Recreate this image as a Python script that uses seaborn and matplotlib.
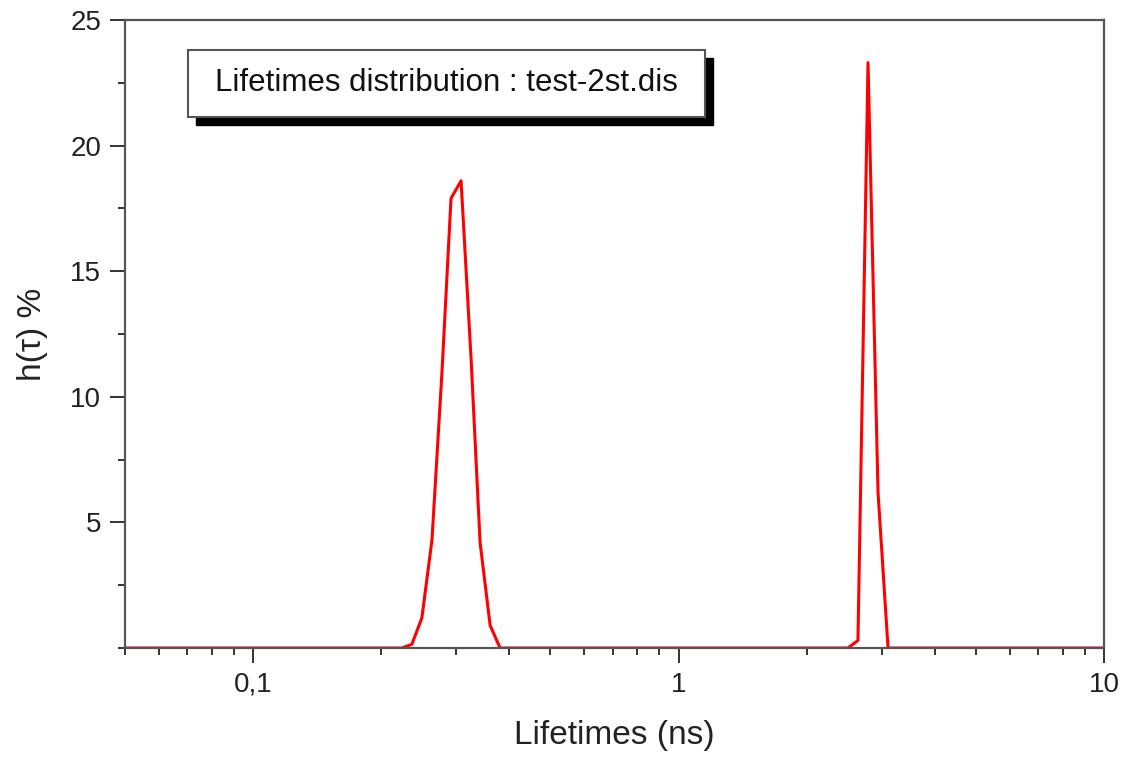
import numpy as np
import pandas as pd
import matplotlib
matplotlib.use("Agg")
import matplotlib.pyplot as plt
import matplotlib.ticker as mticker
from matplotlib.patches import Rectangle
import seaborn as sns

# lifetime grid (ns) and distribution h(tau) in %
tau = [0.05, 0.2238, 0.2362, 0.2493, 0.2633, 0.2780, 0.2919, 0.3082, 0.3254,
       0.3416, 0.3607, 0.3807, 2.501, 2.640, 2.788, 2.943, 3.107, 10.0]
h = [0.0, 0.0, 0.15, 1.2, 4.3, 11.0, 17.9, 18.6, 11.5,
     4.2, 0.9, 0.0, 0.0, 0.3, 23.3, 6.2, 0.0, 0.0]

x_ticks = [0.1, 1, 10]
x_labels = ["0,1", "1", "10"]
y_ticks = [5, 10, 15, 20, 25]

df = pd.DataFrame({"tau": tau, "h": h})

sns.set_style("white")
plt.rcParams["font.family"] = ["Liberation Sans", "DejaVu Sans"]

fig = plt.figure(figsize=(11.26, 7.63), dpi=100)
ax = fig.add_axes([0.111, 0.1507, 0.8695, 0.8231])

sns.lineplot(data=df, x="tau", y="h", ax=ax, color="#ff0000", linewidth=2.2,
             estimator=None, sort=False)

ax.set_xscale("log")
ax.set_xlim(0.05, 10)
ax.set_ylim(0, 25)

ax.xaxis.set_major_locator(mticker.FixedLocator(x_ticks))
ax.xaxis.set_major_formatter(mticker.FixedFormatter(x_labels))
ax.xaxis.set_minor_locator(mticker.LogLocator(base=10, subs=np.arange(2, 10)))
ax.xaxis.set_minor_formatter(mticker.NullFormatter())
ax.yaxis.set_major_locator(mticker.FixedLocator(y_ticks))
ax.yaxis.set_minor_locator(mticker.MultipleLocator(2.5))

for sp in ax.spines.values():
    sp.set_color("#555555")
    sp.set_linewidth(1.6)

ax.tick_params(which="both", direction="out", color="#333333", width=1.4,
               bottom=True, left=True, top=False, right=False)
ax.tick_params(which="major", length=11, labelsize=20, labelcolor="#222222", pad=6)
ax.tick_params(which="minor", length=5)

ax.set_xlabel("Lifetimes (ns)", fontsize=24, color="#222222", labelpad=16)
ax.set_ylabel("h(τ) %", fontsize=24, color="#222222", labelpad=16)

# title box with drop shadow
ax.add_patch(Rectangle((0.0725, 0.833), 0.528, 0.107, transform=ax.transAxes,
                       facecolor="black", edgecolor="black", zorder=4, clip_on=False))
ax.add_patch(Rectangle((0.0644, 0.8455), 0.528, 0.107, transform=ax.transAxes,
                       facecolor="white", edgecolor="#555555", linewidth=1.5,
                       zorder=5, clip_on=False))
ax.text(0.3284, 0.899, "Lifetimes distribution : test-2st.dis", transform=ax.transAxes,
        ha="center", va="center", fontsize=22.5, color="#111111", zorder=6)

fig.savefig("out.png", dpi=100)
